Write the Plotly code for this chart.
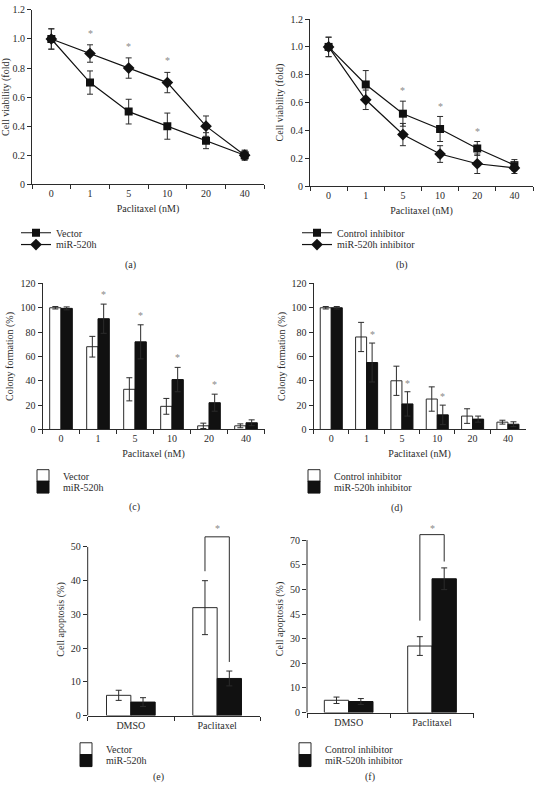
import plotly.graph_objects as go

# ---------------- data ----------------
conc = ["0", "1", "5", "10", "20", "40"]

# (a) cell viability
a_vector = [1.0, 0.70, 0.50, 0.40, 0.30, 0.20]
a_vector_err = [0.07, 0.08, 0.085, 0.09, 0.055, 0.035]
a_mir = [1.0, 0.90, 0.80, 0.70, 0.40, 0.20]
a_mir_err = [0.07, 0.06, 0.07, 0.07, 0.07, 0.03]
a_sig = [1, 2, 3]          # indices of starred concentrations

# (b) cell viability with inhibitors
b_ctrl = [1.0, 0.73, 0.52, 0.41, 0.27, 0.15]
b_ctrl_err = [0.07, 0.10, 0.09, 0.09, 0.05, 0.04]
b_inh = [1.0, 0.62, 0.37, 0.23, 0.16, 0.13]
b_inh_err = [0.07, 0.07, 0.08, 0.06, 0.07, 0.04]
b_sig = [2, 3, 4]

# (c) colony formation
c_vector = [100, 68, 33, 19, 3, 3]
c_vector_err = [1, 8.5, 9.5, 6.5, 2.2, 1.6]
c_mir = [99.5, 91, 72, 41, 22, 5.5]
c_mir_err = [1.2, 12, 14, 10, 7, 2.4]
c_sig = [1, 2, 3, 4]

# (d) colony formation with inhibitors
d_ctrl = [100, 76, 40, 25, 11, 6]
d_ctrl_err = [1, 12, 12, 10, 6, 1.6]
d_inh = [100, 55, 21, 12, 8.5, 4.3]
d_inh_err = [1, 16, 10, 8, 2.5, 2]
d_sig = [1, 2, 3]

# (e) apoptosis
groups = ["DMSO", "Paclitaxel"]
e_vector = [6, 32]
e_vector_err = [1.5, 8]
e_mir = [4, 11]
e_mir_err = [1.3, 2.2]
e_ticks = [0, 10, 20, 30, 40, 50]

# (f) apoptosis with inhibitors (values on the axis' linear tick positions)
f_ctrl = [5, 27]
f_ctrl_err = [1.3, 3.8]
f_inh = [4.5, 54.3]
f_inh_err = [1.2, 4.4]
f_tickvals = [0, 10, 20, 30, 40, 50, 60, 70]
f_ticktext = ["0", "10", "20", "30", "45", "50", "65", "70"]

# ---------------- style ----------------
W, H = 534, 790
FONT = "Liberation Serif, Times New Roman, serif"
TXT = "#2b2b2b"
LINE = "#2b2b2b"
BLACK = "#111111"
STAR = "#8a8a8a"
FS = 10


def px(x):
    return x / W


def py(y):
    return 1 - y / H


def xcat(dom, anchor, cats, title):
    return dict(domain=[px(dom[0]), px(dom[1])], anchor=anchor, type="category",
                categoryorder="array", categoryarray=cats,
                range=[-0.5, len(cats) - 0.5], showline=True, linecolor=LINE, linewidth=1,
                ticks="outside", ticklen=4, tickcolor=LINE, tickwidth=1, tickson="boundaries",
                showgrid=False, zeroline=False, tickfont=dict(family=FONT, size=FS, color=TXT),
                title=dict(text=title, font=dict(family=FONT, size=FS, color=TXT), standoff=6),
                fixedrange=True)


def ylin(dom, anchor, rng, tickvals, ticktext, title, showline=True):
    return dict(domain=[py(dom[0]), py(dom[1])], anchor=anchor, range=rng,
                tickmode="array", tickvals=tickvals, ticktext=ticktext,
                showline=showline, linecolor=LINE, linewidth=1,
                ticks="outside", ticklen=4, tickcolor=LINE, tickwidth=1,
                showgrid=False, zeroline=False, tickfont=dict(family=FONT, size=FS, color=TXT),
                title=dict(text=title, font=dict(family=FONT, size=FS, color=TXT), standoff=4),
                fixedrange=True)


def err(arr):
    return dict(type="data", array=arr, visible=True, thickness=1, width=3, color=LINE)


fig = go.Figure()


def line_trace(x, y, e, name, sym, size, xa, ya, lg):
    fig.add_trace(go.Scatter(x=x, y=y, name=name, mode="lines+markers",
                             line=dict(color=BLACK, width=1.2),
                             marker=dict(symbol=sym, size=size, color=BLACK),
                             error_y=err(e), xaxis=xa, yaxis=ya, legend=lg))


# ---- (a) ----
line_trace(conc, a_vector, a_vector_err, "Vector", "square", 8, "x", "y", "legend")
line_trace(conc, a_mir, a_mir_err, "miR-520h", "diamond", 9, "x", "y", "legend2")
# ---- (b) ----
line_trace(conc, b_ctrl, b_ctrl_err, "Control inhibitor", "square", 8, "x2", "y2", "legend3")
line_trace(conc, b_inh, b_inh_err, "miR-520h inhibitor", "diamond", 9, "x2", "y2", "legend4")

# ---- bars ----
WC, WD, WE, WF = 0.306, 0.312, 0.282, 0.292


def bar_pair(x, y1, e1, n1, y2, e2, n2, w, xa, ya, lg1, lg2):
    fig.add_trace(go.Bar(x=x, y=y1, name=n1, width=w, offset=-w,
                         marker=dict(color="white", line=dict(color=LINE, width=1)),
                         error_y=err(e1), xaxis=xa, yaxis=ya, legend=lg1))
    fig.add_trace(go.Bar(x=x, y=y2, name=n2, width=w, offset=0,
                         marker=dict(color=BLACK, line=dict(color=BLACK, width=1)),
                         error_y=err(e2), xaxis=xa, yaxis=ya, legend=lg2))


bar_pair(conc, c_vector, c_vector_err, "Vector", c_mir, c_mir_err, "miR-520h", WC, "x3", "y3",
         "legend5", "legend6")
bar_pair(conc, d_ctrl, d_ctrl_err, "Control inhibitor", d_inh, d_inh_err, "miR-520h inhibitor",
         WD, "x4", "y4", "legend7", "legend8")
bar_pair(groups, e_vector, e_vector_err, "Vector", e_mir, e_mir_err, "miR-520h", WE, "x5", "y5",
         "legend9", "legend10")
bar_pair(groups, f_ctrl, f_ctrl_err, "Control inhibitor", f_inh, f_inh_err, "miR-520h inhibitor",
         WF, "x6", "y6", "legend11", "legend12")

# ---------------- annotations ----------------
ann = []


def star(xref, yref, x, y):
    ann.append(dict(xref=xref, yref=yref, x=x, y=y, text="*", showarrow=False,
                    font=dict(family=FONT, size=10, color=STAR), yanchor="middle"))


for i in a_sig:
    star("x", "y", i, a_mir[i] + a_mir_err[i] + 0.08)
for i in b_sig:
    star("x2", "y2", i, b_ctrl[i] + b_ctrl_err[i] + 0.075)
for i in c_sig:
    star("x3", "y3", i + WC / 2, c_mir[i] + c_mir_err[i] + 8)
for i in d_sig:
    star("x4", "y4", i + WD / 2, d_inh[i] + d_inh_err[i] + 7)

shapes = []


def bracket(xa, ya, idx, w, top, yl, yr):
    xl, xr = idx - w / 2, idx + w / 2
    for (x0, y0, x1, y1) in [(xl, yl, xl, top), (xl, top, xr, top), (xr, top, xr, yr)]:
        shapes.append(dict(type="line", xref=xa, yref=ya, x0=x0, y0=y0, x1=x1, y1=y1,
                           line=dict(color=LINE, width=1)))
    star(xa, ya, idx, top + 2.5)


bracket("x5", "y5", 1, WE, 53, e_vector[1] + e_vector_err[1] + 2.8, e_mir[1] + e_mir_err[1] + 2.7)
bracket("x6", "y6", 1, WF, 72.2, f_ctrl[1] + f_ctrl_err[1] + 6.5, f_inh[1] + f_inh_err[1] + 2.6)

# y-axis lines for (e) and (f) stop at the top tick
shapes.append(dict(type="line", xref="x5 domain", yref="y5", x0=0, x1=0, y0=0, y1=e_ticks[-1],
                   line=dict(color=LINE, width=1)))
shapes.append(dict(type="line", xref="x6 domain", yref="y6", x0=0, x1=0, y0=0, y1=f_tickvals[-1],
                   line=dict(color=LINE, width=1)))

for lab, x, y in [("(a)", 130, 263), ("(b)", 402, 263), ("(c)", 134, 509),
                  ("(d)", 397, 510), ("(e)", 158, 783), ("(f)", 370, 783)]:
    ann.append(dict(xref="paper", yref="paper", x=px(x), y=py(y), text=lab, showarrow=False,
                    font=dict(family=FONT, size=10, color=TXT), xanchor="center", yanchor="middle"))


def leg(x, row_center):
    return dict(x=px(x), y=py(row_center - 14.5), xanchor="left", yanchor="top",
                bgcolor="rgba(0,0,0,0)", font=dict(family=FONT, size=FS, color=TXT),
                tracegroupgap=0, itemwidth=30)


e_top = 720.5 - 57 * 3.424
f_top = 717.5 - 76 * 2.503

fig.update_layout(
    width=W, height=H, margin=dict(l=0, r=0, t=0, b=0),
    paper_bgcolor="white", plot_bgcolor="white",
    barmode="group", showlegend=True,
    font=dict(family=FONT, size=FS, color=TXT),
    xaxis=xcat((32, 264), "y", conc, "Paclitaxel (nM)"),
    yaxis=ylin((181, 4), "x", [0, 1.2], [0, 0.2, 0.4, 0.6, 0.8, 1.0, 1.2],
               ["0", "0.2", "0.4", "0.6", "0.8", "1.0", "1.2"], "Cell viability (fold)"),
    xaxis2=xcat((310, 533), "y2", conc, "Paclitaxel (nM)"),
    yaxis2=ylin((182.8, 13.3), "x2", [0, 1.2], [0, 0.2, 0.4, 0.6, 0.8, 1.0, 1.2],
                ["0", "0.2", "0.4", "0.6", "0.8", "1.0", "1.2"], "Cell viability (fold)"),
    xaxis3=xcat((42.5, 264.5), "y3", conc, "Paclitaxel (nM)"),
    yaxis3=ylin((430, 281.7), "x3", [0, 120], [0, 20, 40, 60, 80, 100, 120],
                ["0", "20", "40", "60", "80", "100", "120"], "Colony formation (%)"),
    xaxis4=xcat((313.6, 525.6), "y4", conc, "Paclitaxel (nM)"),
    yaxis4=ylin((430, 281.7), "x4", [0, 120], [0, 20, 40, 60, 80, 100, 120],
                ["0", "20", "40", "60", "80", "100", "120"], "Colony formation (%)"),
    xaxis5=xcat((87.7, 260.3), "y5", groups, None),
    yaxis5=ylin((720.5, e_top), "x5", [0, 57], e_ticks, [str(v) for v in e_ticks],
                "Cell apoptosis (%)", showline=False),
    xaxis6=xcat((307, 473.7), "y6", groups, None),
    yaxis6=ylin((717.5, f_top), "x6", [0, 76], f_tickvals, f_ticktext,
                "Cell apoptosis (%)", showline=False),
    legend=leg(16, 230), legend2=leg(16, 242),
    legend3=leg(297, 230), legend4=leg(297, 242),
    legend5=leg(23, 476.7), legend6=leg(23, 488.3),
    legend7=leg(294, 476.7), legend8=leg(294, 488.3),
    legend9=leg(66, 754), legend10=leg(66, 766),
    legend11=leg(285, 754), legend12=leg(285, 766),
    annotations=ann, shapes=shapes,
)

fig.write_html("out.html", config={"displayModeBar": False},
               post_script="document.body.style.margin='0';")
